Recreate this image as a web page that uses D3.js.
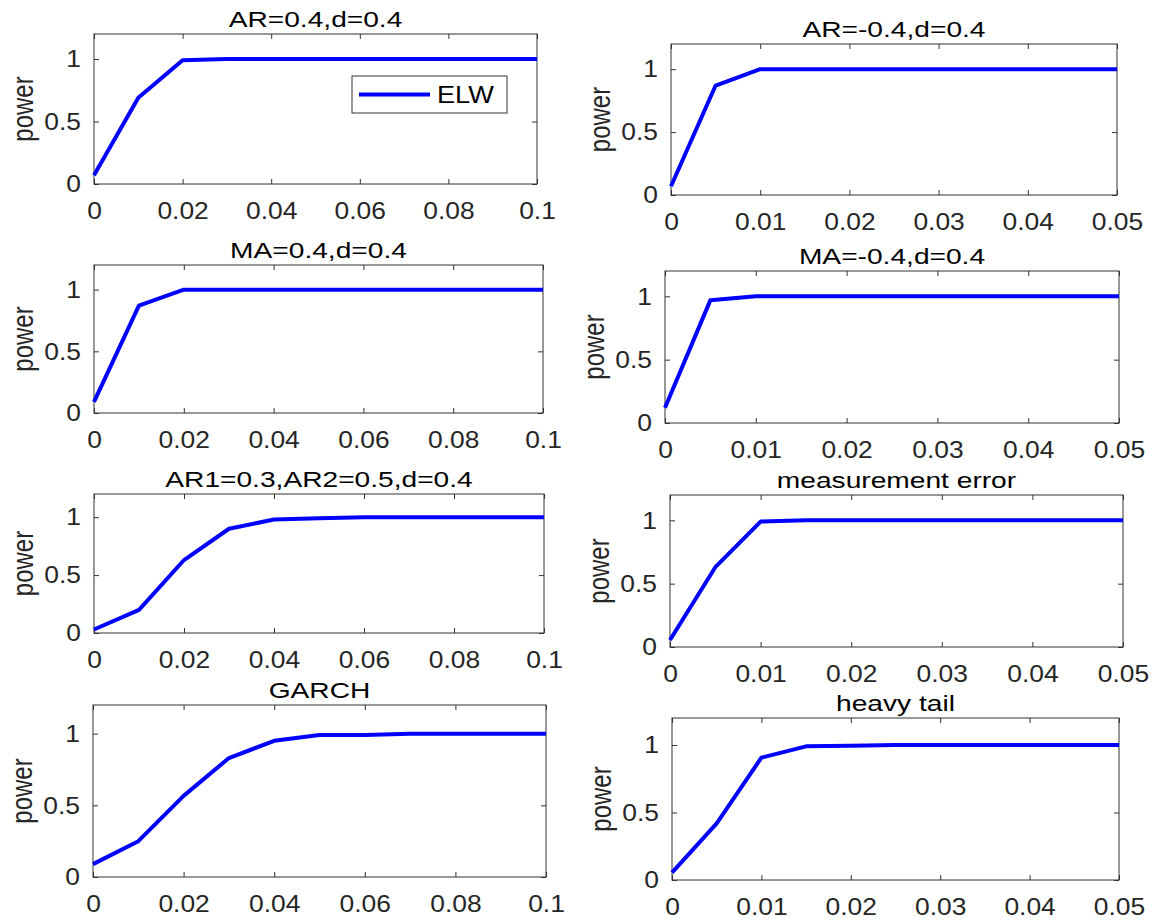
<!DOCTYPE html>
<html>
<head>
<meta charset="utf-8">
<script src="https://cdn.jsdelivr.net/npm/d3@7"></script>
<style>
  body { margin: 0; background: #fff; }
  svg { display: block; font-family: "Liberation Sans", Arial, sans-serif; }
</style>
</head>
<body>
<svg id="fig" width="1162" height="922"></svg>
<script>
// panel titles, in reading order (left column, right column per row)
var titles = [
  "AR=0.4,d=0.4", "AR=-0.4,d=0.4",
  "MA=0.4,d=0.4", "MA=-0.4,d=0.4",
  "AR1=0.3,AR2=0.5,d=0.4", "measurement error",
  "GARCH", "heavy tail"
];

// x grids: left column uses steps of 0.01, right column steps of 0.005
var xLeft = [0, 0.01, 0.02, 0.03, 0.04, 0.05, 0.06, 0.07, 0.08, 0.09, 0.1];
var xRight = [0, 0.005, 0.01, 0.015, 0.02, 0.025, 0.03, 0.035, 0.04, 0.045, 0.05];

var xTicksLeft = [0, 0.02, 0.04, 0.06, 0.08, 0.1];
var xTicksRight = [0, 0.01, 0.02, 0.03, 0.04, 0.05];
var yTicks = [0, 0.5, 1];

// power values
var powerAR = [0.07, 0.69, 0.99, 1, 1, 1, 1, 1, 1, 1, 1];
var powerARneg = [0.07, 0.87, 1, 1, 1, 1, 1, 1, 1, 1, 1];
var powerMA = [0.09, 0.87, 1, 1, 1, 1, 1, 1, 1, 1, 1];
var powerMAneg = [0.12, 0.97, 1, 1, 1, 1, 1, 1, 1, 1, 1];
var powerAR2 = [0.03, 0.2, 0.63, 0.9, 0.98, 0.99, 1, 1, 1, 1, 1];
var powerMeas = [0.055, 0.63, 0.99, 1, 1, 1, 1, 1, 1, 1, 1];
var powerGarch = [0.09, 0.25, 0.566, 0.83, 0.95, 0.99, 0.99, 1, 1, 1, 1];
var powerHeavy = [0.054, 0.42, 0.906, 0.99, 0.995, 1, 1, 1, 1, 1, 1];

var series = [powerAR, powerARneg, powerMA, powerMAneg, powerAR2, powerMeas, powerGarch, powerHeavy];

// axes boxes (left, right, top, bottom) in pixels
var boxes = [
  [94, 537, 34, 184], [671, 1117, 44, 195],
  [94, 543, 265, 413], [665, 1119, 271, 423],
  [94, 544, 494, 633], [670, 1123, 495, 647],
  [93, 546, 705, 877], [672, 1119, 718, 880]
];

var axisColor = "#333333";
var textColor = "#262626";
var lineColor = "#0000ff";

var svg = d3.select("#fig");

// stretch a text horizontally around its own anchor point
function stretch(sel, sx) {
  sel.each(function() {
    var t = d3.select(this);
    var x = +t.attr("x") || 0, y = +t.attr("y") || 0;
    t.attr("x", 0).attr("y", 0)
     .attr("transform", "translate(" + x + "," + y + ") scale(" + sx + ",1)");
  });
}

var fmt = d3.format("~g");

series.forEach(function(vals, i) {
  var b = boxes[i];
  var right = i % 2 === 1;
  var xs = right ? xRight : xLeft;
  var xt = right ? xTicksRight : xTicksLeft;

  var x = d3.scaleLinear().domain([0, right ? 0.05 : 0.1]).range([b[0], b[1]]);
  var y = d3.scaleLinear().domain([0, 1.2]).range([b[3], b[2]]);

  var g = svg.append("g");

  // bottom axis with labels
  var gb = g.append("g").attr("transform", "translate(0," + b[3] + ")")
    .call(d3.axisBottom(x).tickValues(xt).tickSize(-5).tickPadding(18).tickFormat(fmt));
  // left axis with labels
  var gl = g.append("g").attr("transform", "translate(" + b[0] + ",0)")
    .call(d3.axisLeft(y).tickValues(yTicks).tickSize(-5).tickPadding(13).tickFormat(fmt));
  // top and right ticks only
  g.append("g").attr("transform", "translate(0," + b[2] + ")")
    .call(d3.axisTop(x).tickValues(xt).tickSize(-5).tickFormat(""));
  g.append("g").attr("transform", "translate(" + b[1] + ",0)")
    .call(d3.axisRight(y).tickValues(yTicks).tickSize(-5).tickFormat(""));

  g.selectAll(".domain").remove();
  g.selectAll(".tick line").attr("stroke", axisColor);
  g.selectAll(".tick text").attr("fill", textColor)
    .style("font-size", "24px").style("font-family", null);
  stretch(gb.selectAll(".tick text"), 1.1);
  stretch(gl.selectAll(".tick text"), 1.1);

  // axes box
  g.append("rect")
    .attr("x", b[0]).attr("y", b[2])
    .attr("width", b[1] - b[0]).attr("height", b[3] - b[2])
    .attr("fill", "none").attr("stroke", axisColor).attr("stroke-width", 1);

  // data line
  var line = d3.line()
    .x(function(d, j) { return x(xs[j]); })
    .y(function(d) { return y(d); });
  g.append("path")
    .datum(vals)
    .attr("d", line)
    .attr("fill", "none")
    .attr("stroke", lineColor)
    .attr("stroke-width", 4)
    .attr("stroke-linejoin", "round");

  // title
  var tt = g.append("text")
    .attr("x", (b[0] + b[1]) / 2).attr("y", b[2] - 15)
    .attr("dy", "0.36em")
    .attr("text-anchor", "middle")
    .attr("fill", "#000")
    .style("font-size", "22px")
    .text(titles[i]);
  stretch(tt, 1.28);

  // y label
  var lx = b[0] - 70, ly = (b[2] + b[3]) / 2;
  g.append("text")
    .attr("transform", "translate(" + lx + "," + ly + ") scale(1.2,1) rotate(-90)")
    .attr("text-anchor", "middle")
    .attr("dy", "0.3em")
    .attr("fill", textColor)
    .style("font-size", "24px")
    .text("power");
});

// legend in the first panel
var lg = svg.append("g");
lg.append("rect")
  .attr("x", 352).attr("y", 76).attr("width", 155).attr("height", 37)
  .attr("fill", "#fff").attr("stroke", axisColor).attr("stroke-width", 1);
lg.append("line")
  .attr("x1", 359).attr("x2", 430).attr("y1", 94.5).attr("y2", 94.5)
  .attr("stroke", lineColor).attr("stroke-width", 4);
var lt = lg.append("text")
  .attr("x", 437).attr("y", 94.5).attr("dy", "0.36em")
  .attr("fill", "#000")
  .style("font-size", "23px")
  .text("ELW");
stretch(lt, 1.18);
</script>
</body>
</html>
